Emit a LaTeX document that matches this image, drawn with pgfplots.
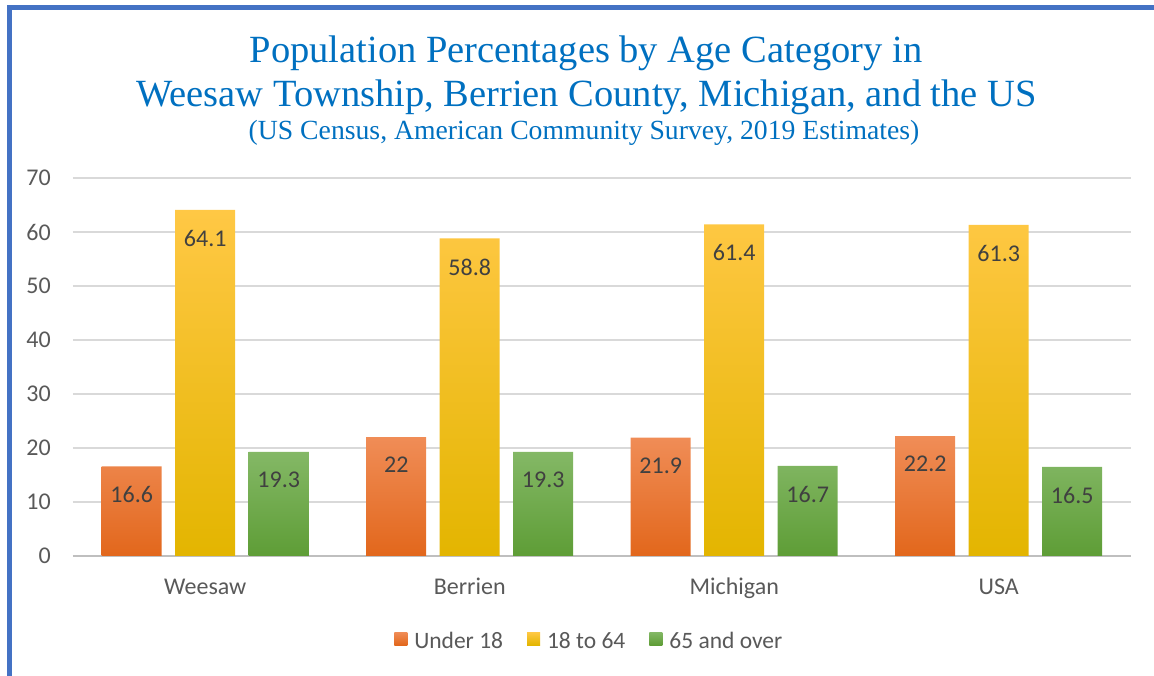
\documentclass[border=0pt]{standalone}
\usepackage{fontspec}
\setmainfont{Carlito}
\newfontfamily\titlefont{Liberation Serif}
\usepackage{pgfplots}
\pgfplotsset{compat=1.18}

\definecolor{titleblue}{HTML}{0070C0}
\definecolor{frameblue}{HTML}{4472C4}
\definecolor{gridgray}{HTML}{D9D9D9}
\definecolor{axisgray}{HTML}{BFBFBF}
\definecolor{ticktext}{HTML}{595959}
\definecolor{labeltext}{HTML}{404040}
\definecolor{orT}{HTML}{F08D57}
\definecolor{orM}{HTML}{F47C28}
\definecolor{orB}{HTML}{E2671C}
\definecolor{yeT}{HTML}{FFC845}
\definecolor{yeM}{HTML}{FFC000}
\definecolor{yeB}{HTML}{E3B500}
\definecolor{grT}{HTML}{84B866}
\definecolor{grM}{HTML}{70AD47}
\definecolor{grB}{HTML}{5E9D36}

\begin{document}
\begin{tikzpicture}
\begin{axis}[
    at={(73pt,120pt)}, anchor=south west,
    scale only axis,
    width=1058pt, height=378pt,
    xmin=-0.5, xmax=3.5,
    ymin=0, ymax=70,
    ybar=13.5pt, bar width=60pt,
    ytick={0,10,...,70},
    xtick={0,1,2,3},
    xticklabels={Weesaw, Berrien, Michigan, USA},
    /pgf/number format/assume math mode=true,
    ymajorgrids,
    grid style={gridgray, line width=1.3pt},
    axis x line*=bottom,
    axis y line*=left,
    y axis line style={draw=none},
    x axis line style={draw=axisgray, line width=1.5pt, -},
    tick style={draw=none},
    major tick length=0pt,
    every tick label/.append style={font=\fontsize{24}{28}\selectfont, text=ticktext},
    yticklabel style={anchor=east, inner sep=0pt, xshift=-22pt},
    xticklabel style={anchor=base, inner sep=0pt, yshift=-39pt},
    nodes near coords,
    every node near coord/.append style={anchor=north, inner sep=0pt, yshift=-20pt,
        font=\fontsize{24}{28}\selectfont, text=labeltext},
    legend columns=3,
    legend image code/.code={\path[#1, draw=none] (0pt,-4pt) rectangle (13pt,9pt); \path (18pt,0pt);},
    legend style={draw=none, at={(0.488,-0.225)}, anchor=center,
        font=\fontsize{23.5}{28}\selectfont, text=ticktext,
        /tikz/every even column/.append style={column sep=22pt}},
]
\addplot[draw=none, top color=orT, middle color=orM, bottom color=orB]
    coordinates {(0,16.6) (1,22) (2,21.9) (3,22.2)};
\addlegendentry{Under 18}
\addplot[draw=none, top color=yeT, middle color=yeM, bottom color=yeB]
    coordinates {(0,64.1) (1,58.8) (2,61.4) (3,61.3)};
\addlegendentry{18 to 64}
\addplot[draw=none, top color=grT, middle color=grM, bottom color=grB]
    coordinates {(0,19.3) (1,19.3) (2,16.7) (3,16.5)};
\addlegendentry{65 and over}
\end{axis}

% title
\node[anchor=base, text=titleblue, font=\titlefont\fontsize{38.5}{44}\selectfont, inner sep=0pt]
    at (586pt,613pt) {Population Percentages by Age Category in};
\node[anchor=base, text=titleblue, font=\titlefont\fontsize{38.5}{44}\selectfont, inner sep=0pt]
    at (586.5pt,569pt) {Weesaw Township, Berrien County, Michigan, and the US};
\node[anchor=base, text=titleblue, font=\titlefont\fontsize{27.7}{32}\selectfont, inner sep=0pt]
    at (584pt,536pt) {(US Census, American Community Survey, 2019 Estimates)};

% frame
\draw[frameblue, line width=5pt] (9.5pt,0pt) -- (9.5pt,668.5pt) -- (1154pt,668.5pt);

\pgfresetboundingbox
\useasboundingbox (0pt,0pt) rectangle (1154pt,676pt);
\end{tikzpicture}
\end{document}
